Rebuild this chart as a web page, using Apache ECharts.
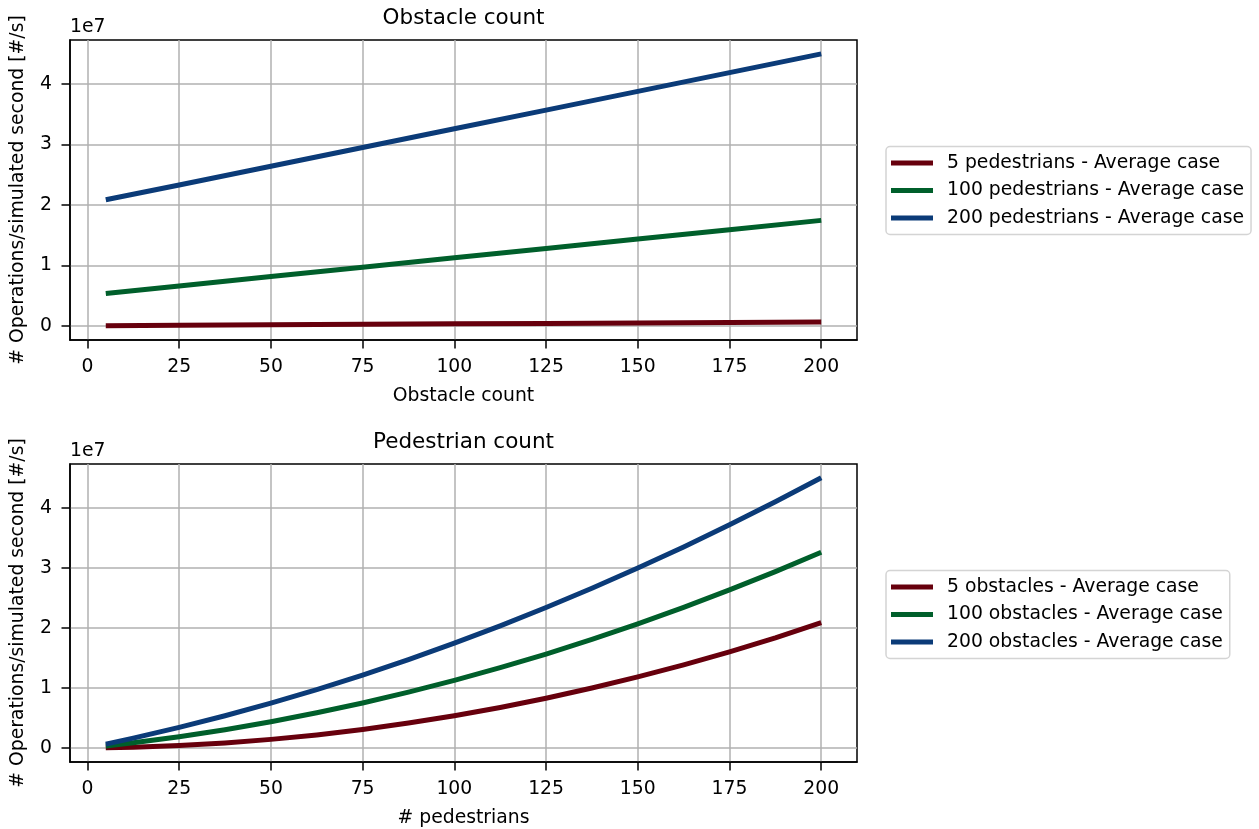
<!DOCTYPE html>
<html>
<head>
<meta charset="utf-8">
<script src="https://cdn.jsdelivr.net/npm/echarts@6/dist/echarts.min.js"></script>
<style>
  html, body { margin: 0; padding: 0; background: #fff; }
  #chart { width: 1259px; height: 829px; }
</style>
</head>
<body>
<div id="chart"></div>
<script>
// ---- Data ----
const obstacleCounts = [5, 25, 50, 75, 100, 125, 150, 175, 200];
const pedestrianCounts = [5, 12.5, 25, 37.5, 50, 62.5, 75, 87.5, 100, 112.5, 125, 137.5, 150, 162.5, 175, 187.5, 200];

// Top panel: operations vs obstacle count
const ped5 = [28000, 90000, 168000, 245000, 323000, 400000, 478000, 555000, 633000];
const ped100 = [5360000, 6600000, 8150000, 9700000, 11250000, 12800000, 14350000, 15900000, 17450000];
const ped200 = [20850000, 23300000, 26400000, 29500000, 32600000, 35700000, 38800000, 41900000, 45000000];

// Bottom panel: operations vs pedestrian count
const obs5 = [28000, 118000, 393000, 826000, 1420000, 2166000, 3070000, 4138000, 5360000,
  6740000, 8280000, 9974000, 11830000, 13839000, 16000000, 18335000, 20880000];
const obs100 = [323000, 854000, 1866000, 3035000, 4360000, 5848000, 7490000, 9291000, 11250000,
  13366000, 15640000, 18073000, 20660000, 23410000, 26320000, 29379000, 32600000];
const obs200 = [633000, 1629000, 3420000, 5360000, 7460000, 9723000, 12140000, 14716000, 17450000,
  20341000, 23390000, 26598000, 29960000, 33485000, 37170000, 41004000, 45000000];

const xTicks = [0, 25, 50, 75, 100, 125, 150, 175, 200];
const yTicks = [0, 10000000, 20000000, 30000000, 40000000];

const topNames = ['5 pedestrians - Average case', '100 pedestrians - Average case', '200 pedestrians - Average case'];
const bottomNames = ['5 obstacles - Average case', '100 obstacles - Average case', '200 obstacles - Average case'];
const colors = ['#67000d', '#005f2b', '#0b3b78'];

// ---- Chart ----
const FONT = 'DejaVu Sans';
const FS = 18.8;
const pair = (xs, ys) => xs.map((x, i) => [x, ys[i]]);

function xAxisCfg(gridIndex, name) {
  return {
    type: 'value', gridIndex: gridIndex, min: -4.75, max: 209.75,
    name: name, nameLocation: 'middle', nameGap: 47,
    nameTextStyle: { fontFamily: FONT, fontSize: FS, color: '#000' },
    axisLine: { show: true, onZero: false, lineStyle: { color: '#000', width: 1.5 } },
    axisTick: { show: true, length: 8.5, customValues: xTicks, lineStyle: { color: '#000', width: 1.5 } },
    axisLabel: { customValues: xTicks, margin: 18, fontFamily: FONT, fontSize: FS, color: '#000' },
    splitLine: { show: true, lineStyle: { color: '#b0b0b0', width: 1.5 } }
  };
}
function yAxisCfg(gridIndex) {
  return {
    type: 'value', gridIndex: gridIndex, min: -2350000, max: 47300000,
    name: '# Operations/simulated second [#/s]', nameLocation: 'middle', nameGap: 42, nameRotate: 90,
    nameTextStyle: { fontFamily: FONT, fontSize: FS, color: '#000' },
    axisLine: { show: true, onZero: false, lineStyle: { color: '#000', width: 1.5 } },
    axisTick: { show: true, length: 8.5, customValues: yTicks, lineStyle: { color: '#000', width: 1.5 } },
    axisLabel: { customValues: yTicks, margin: 18, fontFamily: FONT, fontSize: FS, color: '#000',
      formatter: v => String(Math.round(v / 1e7)) },
    splitLine: { show: true, lineStyle: { color: '#b0b0b0', width: 1.5 } }
  };
}
function lineSeries(name, xi, xs, ys, color) {
  return {
    type: 'line', name: name, xAxisIndex: xi, yAxisIndex: xi,
    data: pair(xs, ys), showSymbol: false, symbol: 'none', smooth: false,
    lineStyle: { color: color, width: 5, cap: 'butt', join: 'round' }, itemStyle: { color: color },
    emphasis: { disabled: true }, z: 3
  };
}
function legendCfg(top, names) {
  return {
    orient: 'vertical', left: 886, top: top, data: names,
    icon: 'rect', itemWidth: 42, itemHeight: 5, itemGap: 8.5,
    padding: [7, 7, 7, 5],
    borderColor: '#d4d4d4', borderWidth: 1.5, borderRadius: 4, backgroundColor: '#fff',
    textStyle: { fontFamily: FONT, fontSize: FS, color: '#000', lineHeight: 19, padding: [0, 0, 0, 9] },
    selectedMode: false
  };
}

const chart = echarts.init(document.getElementById('chart'), null, { renderer: 'canvas' });
chart.setOption({
  animation: false,
  backgroundColor: '#fff',
  title: [
    { text: 'Obstacle count', left: 463.5, top: 7.5, textAlign: 'center', padding: 0,
      textStyle: { fontFamily: FONT, fontSize: 21.5, fontWeight: 'normal', color: '#000' } },
    { text: 'Pedestrian count', left: 463.5, top: 431, textAlign: 'center', padding: 0,
      textStyle: { fontFamily: FONT, fontSize: 21.5, fontWeight: 'normal', color: '#000' } }
  ],
  grid: [
    { left: 70, top: 40, width: 787, height: 300, show: true, borderColor: '#000', borderWidth: 1.5, backgroundColor: 'transparent' },
    { left: 70, top: 464, width: 787, height: 300, show: true, borderColor: '#000', borderWidth: 1.5, backgroundColor: 'transparent' }
  ],
  xAxis: [xAxisCfg(0, 'Obstacle count'), xAxisCfg(1, '# pedestrians')],
  yAxis: [yAxisCfg(0), yAxisCfg(1)],
  legend: [legendCfg(146.5, topNames), legendCfg(570.5, bottomNames)],
  graphic: [
    { type: 'text', left: 70, top: 18, style: { text: '1e7', fontFamily: FONT, fontSize: FS, fill: '#000' } },
    { type: 'text', left: 70, top: 442, style: { text: '1e7', fontFamily: FONT, fontSize: FS, fill: '#000' } }
  ],
  series: [
    lineSeries(topNames[0], 0, obstacleCounts, ped5, colors[0]),
    lineSeries(topNames[1], 0, obstacleCounts, ped100, colors[1]),
    lineSeries(topNames[2], 0, obstacleCounts, ped200, colors[2]),
    lineSeries(bottomNames[0], 1, pedestrianCounts, obs5, colors[0]),
    lineSeries(bottomNames[1], 1, pedestrianCounts, obs100, colors[1]),
    lineSeries(bottomNames[2], 1, pedestrianCounts, obs200, colors[2])
  ]
});
</script>
</body>
</html>
